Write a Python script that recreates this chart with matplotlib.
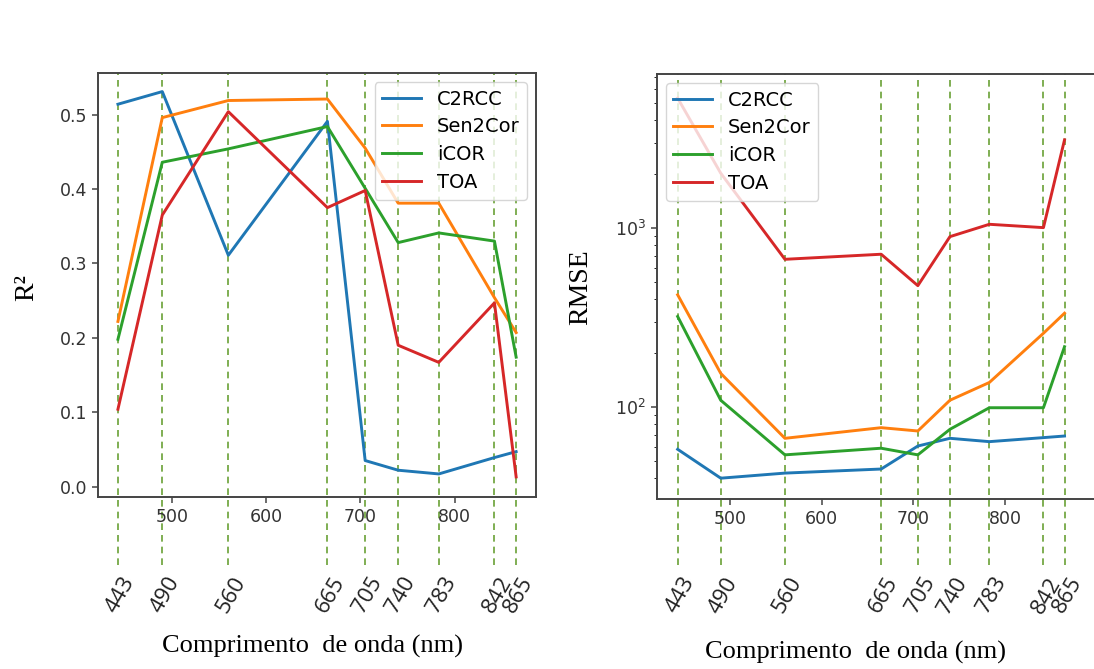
import numpy as np
import matplotlib
matplotlib.use('Agg')
import matplotlib.pyplot as plt
import matplotlib.transforms as mtransforms

# Sentinel-2 band centres (nm)
bands = [443, 490, 560, 665, 705, 740, 783, 842, 865]
band_labels = ['443', '490', '560', '665', '705', '740', '783', '842', '865']
series_names = ['C2RCC', 'Sen2Cor', 'iCOR', 'TOA']

# R2 per band
r2_c2rcc = [0.514, 0.531, 0.311, 0.491, 0.035, 0.022, 0.017, 0.039, 0.047]
r2_sen2cor = [0.222, 0.496, 0.519, 0.521, 0.455, 0.381, 0.381, 0.254, 0.207]
r2_icor = [0.198, 0.436, 0.454, 0.484, 0.401, 0.328, 0.341, 0.330, 0.174]
r2_toa = [0.104, 0.365, 0.504, 0.375, 0.398, 0.190, 0.167, 0.247, 0.013]

# RMSE per band
rmse_c2rcc = [58, 40, 42.7, 45, 60.5, 66.8, 64, 67.4, 68.8]
rmse_sen2cor = [423, 154, 66.8, 76.6, 73.4, 109, 137, 258, 334]
rmse_icor = [320, 109, 54, 58.8, 54, 75, 99, 99, 217]
rmse_toa = [5310, 2022, 668, 713, 476, 894, 1048, 1004, 3104]

colors = ['#1f77b4', '#ff7f0e', '#2ca02c', '#d62728']
dash_col = '#69a136'

fig = plt.figure(figsize=(10.94, 6.69), dpi=100)
ax1 = fig.add_axes([0.0896, 0.2571, 0.4004, 0.6338])
ax2 = fig.add_axes([0.6005, 0.2541, 0.4049, 0.6353])


def band_lines(ax, ymin):
    trans = mtransforms.blended_transform_factory(ax.transData, ax.transAxes)
    for b, lab in zip(bands, band_labels):
        ax.plot([b, b], [ymin, 1.0], transform=trans, color=dash_col,
                linestyle=(0, (4, 3)), linewidth=1.2, clip_on=False, zorder=1)
        ax.text(b + 3, ymin - 0.02, lab, transform=trans, rotation=60,
                ha='center', va='top', fontsize=16, family='Open Sans',
                color='#222222')


def style_axes(ax):
    for sp in ax.spines.values():
        sp.set_color('#444444')
        sp.set_linewidth(1.4)
    ax.tick_params(labelsize=12.5, length=4.5, width=1.1,
                   colors='#444444', labelcolor='#333333')


# left panel: R2
for vals, name, c in zip([r2_c2rcc, r2_sen2cor, r2_icor, r2_toa], series_names, colors):
    ax1.plot(bands, vals, color=c, linewidth=2.1, label=name, zorder=3)
ax1.set_ylim(-0.014, 0.556)
ax1.set_xlim(421.9, 886.1)
ax1.set_yticks([0.0, 0.1, 0.2, 0.3, 0.4, 0.5])
ax1.set_xticks([500, 600, 700, 800])
style_axes(ax1)
band_lines(ax1, -0.16)
ax1.legend(loc='upper right', fontsize=14, handlelength=2.0,
           borderaxespad=0.45, labelspacing=0.45)
ax1.set_xlabel('Comprimento  de onda (nm)', family='Liberation Serif', fontsize=19)
ax1.xaxis.set_label_coords(0.489, -0.325)
ax1.set_ylabel('R²', family='Liberation Serif', fontsize=20)
ax1.yaxis.set_label_coords(-0.135, 0.493)

# right panel: RMSE (log)
for vals, name, c in zip([rmse_c2rcc, rmse_sen2cor, rmse_icor, rmse_toa], series_names, colors):
    ax2.plot(bands, vals, color=c, linewidth=2.1, label=name, zorder=3)
ax2.set_yscale('log')
ax2.set_ylim(30.6, 7244)
ax2.set_xlim(420.4, 903.6)
ax2.set_xticks([500, 600, 700, 800])
style_axes(ax2)
band_lines(ax2, -0.155)
ax2.legend(loc='upper left', fontsize=14, handlelength=2.0,
           borderaxespad=0.45, labelspacing=0.45)
ax2.set_xlabel('Comprimento  de onda (nm)', family='Liberation Serif', fontsize=19)
ax2.xaxis.set_label_coords(0.449, -0.335)
ax2.set_ylabel('RMSE', family='Liberation Serif', fontsize=20)
ax2.yaxis.set_label_coords(-0.144, 0.499)

fig.savefig('out.png', dpi=100)
